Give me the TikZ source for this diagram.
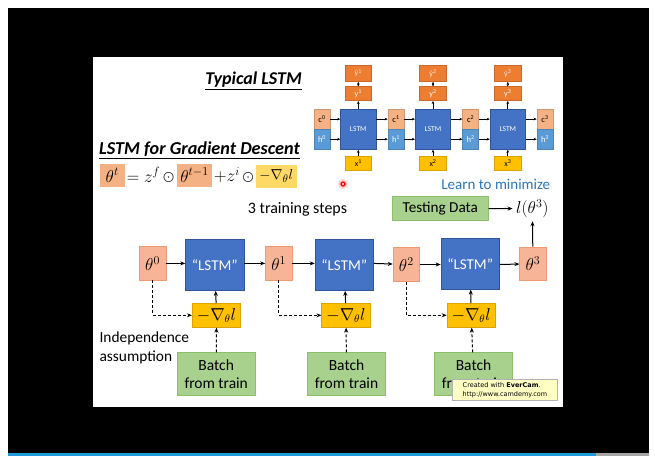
\documentclass[tikz,border=0pt]{standalone}
\usepackage{fontspec}
\setmainfont{Carlito}
\newfontfamily\wmfont{DejaVu Sans}
\usetikzlibrary{arrows.meta}
\definecolor{thfill}{HTML}{F8B496}
\definecolor{thdraw}{HTML}{EE9A70}
\definecolor{lstmfill}{HTML}{4472C4}
\definecolor{lstmdraw}{HTML}{2F5597}
\definecolor{gfill}{HTML}{FFC000}
\definecolor{gdraw}{HTML}{D9A400}
\definecolor{bfill}{HTML}{A9D18E}
\definecolor{bdraw}{HTML}{8CBF6C}
\definecolor{orfill}{HTML}{ED7D31}
\definecolor{cfill}{HTML}{F4B183}
\definecolor{hfill}{HTML}{5B9BD5}
\definecolor{eqg}{HTML}{FFD966}
\definecolor{learnblue}{HTML}{2E75B6}
\definecolor{barblue}{HTML}{1E9BD7}
\definecolor{wmfill}{HTML}{FFFFC4}
\begin{document}
\begin{tikzpicture}[x=1pt,y=-1pt,
  box/.style={draw, line width=0.6pt, inner sep=0pt, anchor=center, align=center},
  thbox/.style={box, fill=thfill, draw=thdraw, minimum width=26.5pt, minimum height=33.5pt, font=\fontsize{17}{19}\selectfont},
  lstmbox/.style={box, fill=lstmfill, draw=lstmdraw, text=white, minimum width=58.5pt, minimum height=51pt, font=\fontsize{15}{17}\selectfont},
  gradbox/.style={box, fill=gfill, draw=gdraw, minimum width=48.5pt, minimum height=24pt, font=\fontsize{16}{18}\selectfont},
  batchbox/.style={box, fill=bfill, draw=bdraw, minimum width=78pt, minimum height=42.5pt, font=\fontsize{15.5}{18}\selectfont},
  tlstm/.style={box, fill=lstmfill, draw=lstmdraw, text=white, minimum width=35.5pt, minimum height=40.5pt, font=\fontsize{7.5}{9}\selectfont},
  obox/.style={box, fill=orfill, draw=orfill!85!black, text=white, minimum width=26.7pt, font=\fontsize{8}{9}\selectfont},
  cbox/.style={box, fill=cfill, draw=cfill!85!black, minimum width=16pt, minimum height=20pt, font=\fontsize{8.5}{9}\selectfont},
  hbox/.style={box, fill=hfill, draw=hfill!85!black, text=white, minimum width=16pt, minimum height=20pt, font=\fontsize{8.5}{9}\selectfont},
  xbox/.style={box, fill=gfill, draw=gdraw, minimum width=26.7pt, minimum height=13.5pt, font=\fontsize{8}{9}\selectfont},
  arr/.style={-{Stealth[length=5pt,width=4pt]}, line width=1pt},
  sarr/.style={-{Stealth[length=3pt,width=2.6pt]}, line width=0.7pt},
  darr/.style={arr, dashed, dash pattern=on 3pt off 2pt},
  ]
\useasboundingbox (0,0) rectangle (655,463);
\fill[white] (0,0) rectangle (655,463);
\fill[black] (8,8) rectangle (649,453);
\fill[white] (93,57) rectangle (563,407);
\fill[barblue] (8,453) rectangle (596,455.5);
\fill[gray!70] (596,453) rectangle (649,455.5);

% titles
\node[anchor=center, font=\fontsize{18}{20}\selectfont\bfseries\itshape] (title1) at (253.5,81) {\underline{Typical LSTM}};
\node[anchor=center, font=\fontsize{18.2}{20}\selectfont\bfseries\itshape] (title2) at (199.5,150) {\underline{LSTM for Gradient Descent}};

% equation
\node[box, fill=cfill, draw=cfill, minimum width=24.3pt, minimum height=21.7pt, font=\fontsize{17}{19}\selectfont] (eq1) at (112.2,175.2) {$\theta^t$};
\node[anchor=center, font=\fontsize{17}{19}\selectfont] (eq2) at (150.5,175.2) {$=z^f\bigodot$};
\node[box, fill=cfill, draw=cfill, minimum width=34.4pt, minimum height=21.7pt, font=\fontsize{17}{19}\selectfont] (eq3) at (194.5,175.2) {$\theta^{t-1}$};
\node[anchor=center, font=\fontsize{17}{19}\selectfont] (eq4) at (234,175.2) {$+z^i\bigodot$};
\node[box, fill=eqg, draw=eqg, minimum width=39.3pt, minimum height=22.7pt, font=\fontsize{15}{18}\selectfont] (eq5) at (276.3,176.3) {$-\nabla_{\theta} l$};

% typical LSTM diagram
\foreach \i/\x in {1/358.3, 2/433, 3/507.8} {
  \node[tlstm] (L\i) at (\x,129.2) {LSTM};
  \node[obox, minimum height=14pt] (y\i) at (\x,93.7) {y\textsuperscript{\i}};
  \node[obox, minimum height=16.7pt, text=white!80!orfill] (yh\i) at (\x,73.3) {ŷ\textsuperscript{\i}};
  \node[xbox] (x\i) at (\x,163.3) {x\textsuperscript{\i}};
  \draw[sarr] (x\i) -- (L\i);
  \draw[sarr] (L\i) -- (y\i);
  \draw[{Stealth[length=2.5pt,width=2.4pt]}-{Stealth[length=2.5pt,width=2.4pt]}, line width=0.6pt, dash pattern=on 1.2pt off 0.8pt] (y\i) -- (yh\i);
}
\foreach \i/\x in {0/322, 1/396, 2/470.7, 3/545} {
  \node[cbox] (c\i) at (\x,119.1) {c\textsuperscript{\i}};
  \node[hbox] (h\i) at (\x,139.2) {h\textsuperscript{\i}};
}
\foreach \a/\b in {0/1, 1/2, 2/3} {
  \draw[sarr] (c\a.east) -- (c\a.east -| L\b.west);
  \draw[sarr] (h\a.east) -- (h\a.east -| L\b.west);
}
\foreach \a/\b in {1/1, 2/2, 3/3} {
  \draw[sarr] (c\b.west -| L\a.east) -- (c\b.west);
  \draw[sarr] (h\b.west -| L\a.east) -- (h\b.west);
}

% laser dot
\fill[red!30, opacity=0.6] (343,184) circle (5);
\draw[red, line width=1.3pt] (343,184) circle (2);

% texts
\node[anchor=center, text=learnblue, font=\fontsize{15}{17}\selectfont] (learn) at (495.8,184.7) {Learn to minimize};
\node[anchor=center, font=\fontsize{16}{18}\selectfont] (steps) at (297.5,209.5) {3 training steps};
\node[anchor=west, align=left, font=\fontsize{15.4}{19}\selectfont] (indep) at (96,348) {Independence\\assumption};

% lower diagram
\node[thbox] (th0) at (152.6,263.4) {$\theta^0$};
\node[lstmbox] (lstm1) at (214.8,265) {“LSTM”};
\node[thbox] (th1) at (278.7,263.4) {$\theta^1$};
\node[lstmbox] (lstm2) at (344.3,265) {“LSTM”};
\node[thbox] (th2) at (406.3,264.5) {$\theta^2$};
\node[lstmbox] (lstm3) at (470.2,263.8) {“LSTM”};
\node[thbox] (th3) at (533,263.7) {$\theta^3$};
\node[gradbox] (g1) at (216.5,315.3) {$-\nabla_{\theta} l$};
\node[gradbox] (g2) at (346,315.3) {$-\nabla_{\theta} l$};
\node[gradbox] (g3) at (471.2,315.3) {$-\nabla_{\theta} l$};
\node[batchbox] (b1) at (216.2,374) {Batch\\from train};
\node[batchbox] (b2) at (346.5,374) {Batch\\from train};
\node[batchbox] (b3) at (473.5,374) {Batch\\from train};
\node[box, fill=bfill, draw=bdraw, minimum width=96pt, minimum height=24pt, font=\fontsize{15.2}{17}\selectfont] (test) at (440.3,208.7) {Testing Data};
\node[anchor=center, font=\fontsize{17}{19}\selectfont] (loss) at (532.3,208.5) {$l(\theta^3)$};

\draw[arr] (th0) -- (th0 -| lstm1.west);
\draw[arr] (th0 -| lstm1.east) -- (th1);
\draw[arr] (th1) -- (th1 -| lstm2.west);
\draw[arr] (th1 -| lstm2.east) -- (th2);
\draw[arr] (th2) -- (th2 -| lstm3.west);
\draw[arr] (th2 -| lstm3.east) -- (th3);
\draw[arr] (th3) -- (loss);
\draw[arr] (test) -- (loss);
\foreach \i in {1,2,3} {
  \draw[arr] (g\i) -- (lstm\i);
  \draw[darr] (b\i) -- (g\i);
}
\draw[darr] (th0.south) |- (g1.west);
\draw[darr] (th1.south) |- (g2.west);
\draw[darr] (th2.south) |- (g3.west);

% watermark
\node[box, fill=wmfill, draw=gray!60, line width=0.5pt, minimum width=105pt, minimum height=21pt, align=left, font=\wmfont\fontsize{6.5}{9}\selectfont] (wm) at (505,389.7) {Created with \textbf{EverCam}.\\http://www.camdemy.com};
\end{tikzpicture}
\end{document}
